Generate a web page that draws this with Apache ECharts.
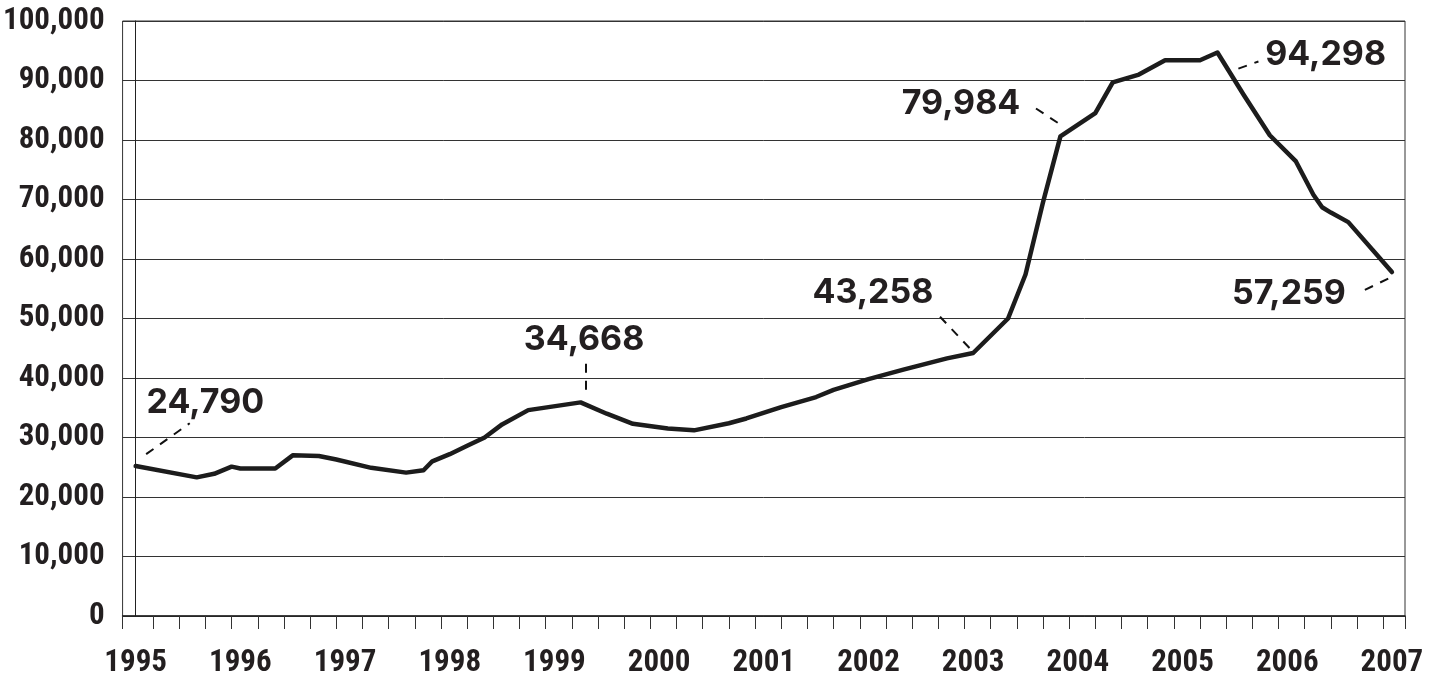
<!DOCTYPE html>
<html>
<head>
<meta charset="utf-8">
<style>
  html, body { margin: 0; padding: 0; background: #ffffff; }
  #chart { width: 1429px; height: 679px; }
</style>
<script src="https://cdn.jsdelivr.net/npm/echarts@6/dist/echarts.min.js"></script>
</head>
<body>
<div id="chart"></div>
<script>
// ---- Data (month index: 0 = Jan 1995) ----
const months = [0, 7, 9, 11, 12, 16, 18, 21, 23, 27, 31, 33, 34, 36, 38, 40, 42, 45, 51, 54,
                57, 61, 64, 68, 70, 74, 78, 80, 84, 88, 93, 96, 100, 102, 104, 106, 110, 112, 115, 118,
                122, 124, 127, 130, 133, 135, 136, 137, 139, 144];
const values = [25200, 23300, 23900, 25100, 24800, 24800, 27000, 26900, 26300, 24900, 24100, 24500, 26000, 27200, 28600, 30000, 32200, 34600, 35900, 34000,
                32300, 31500, 31200, 32400, 33200, 35100, 36800, 38000, 39800, 41400, 43300, 44200, 50000, 57400, 69500, 80600, 84500, 89700, 91000, 93400,
                93400, 94700, 87600, 80800, 76400, 70800, 68700, 67800, 66200, 57800];
const yearLabels = ['1995','1996','1997','1998','1999','2000','2001','2002','2003','2004','2005','2006','2007'];
const calloutTexts = ['24,790', '34,668', '43,258', '79,984', '94,298', '57,259'];

// ---- Layout of callouts (data units: [month, value]) ----
const calloutLabelAt = [[8.0, 35900], [51.4, 46500], [84.5, 54300], [94.6, 86100], [136.4, 94400], [132.2, 54100]];
const calloutLeader = [
  [[1.2, 27200], [6.2, 32400]],
  [[51.6, 42400], [51.6, 37400]],
  [[92.2, 50300], [95.6, 45000]],
  [[103.2, 85300], [106.3, 82300]],
  [[126.4, 92000], [128.7, 93200]],
  [[140.9, 54800], [144.4, 57300]]
];

const condensed = "'Liberation Sans Narrow', 'Roboto Condensed', 'DejaVu Sans Condensed', sans-serif";
const textColor = '#231f20';

const tickValues = [-1.5];
for (let q = 2; q <= 143; q += 3) tickValues.push(q);
tickValues.push(145.5);
const labelValues = yearLabels.map((_, i) => i * 12);

const chart = echarts.init(document.getElementById('chart'), null, { renderer: 'canvas' });
chart.setOption({
  animation: false,
  backgroundColor: '#ffffff',
  grid: { left: 118, right: 24, top: 21, bottom: 63, show: true, borderColor: '#333', borderWidth: 1, backgroundColor: 'transparent' },
  xAxis: {
    type: 'value',
    min: -1.5,
    max: 145.5,
    axisLine: { show: true, onZero: false, lineStyle: { color: '#222', width: 1.5 } },
    axisTick: { show: true, customValues: tickValues, length: 13, lineStyle: { color: '#333', width: 1 } },
    axisLabel: {
      customValues: labelValues,
      formatter: v => yearLabels[Math.round(v / 12)] || '',
      fontFamily: condensed, fontWeight: 'bold', fontSize: 31, color: textColor, margin: 32
    },
    splitLine: { show: false }
  },
  yAxis: {
    type: 'value',
    min: 0, max: 100000, interval: 10000,
    axisLine: { show: true, lineStyle: { color: '#222', width: 1 } },
    axisTick: { show: false },
    axisLabel: {
      formatter: v => v.toLocaleString('en-US'),
      fontFamily: condensed, fontWeight: 'bold', fontSize: 31, color: textColor, margin: 18
    },
    splitLine: { show: true, lineStyle: { color: '#333', width: 1 } }
  },
  series: [
    {
      type: 'line',
      data: months.map((m, i) => [m, values[i]]),
      symbol: 'none',
      lineStyle: { color: '#1c1c1c', width: 4.5, cap: 'round', join: 'round' },
      z: 3
    },
    {
      type: 'scatter',
      data: calloutLabelAt.map((p, i) => ({ value: p, name: calloutTexts[i] })),
      symbolSize: 0,
      silent: true,
      itemStyle: { opacity: 1 },
      label: {
        show: true, position: 'inside', formatter: p => p.name, opacity: 1,
        fontFamily: 'Inter, Roboto, sans-serif', fontWeight: 'bold', fontSize: 34, color: textColor
      },
      markLine: {
        silent: true, symbol: 'none', label: { show: false },
        lineStyle: { color: '#111', width: 2, type: [9, 8], opacity: 1 },
        data: calloutLeader.map(seg => [{ coord: seg[0] }, { coord: seg[1] }])
      },
      z: 4
    }
  ]
});
</script>
</body>
</html>
